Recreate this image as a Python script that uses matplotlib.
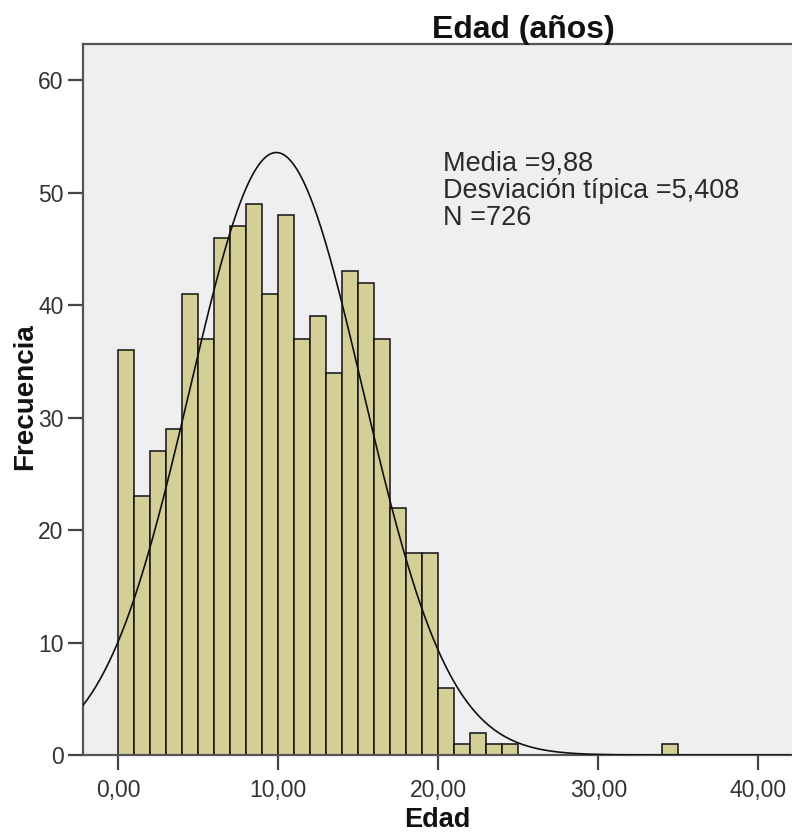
import matplotlib
matplotlib.use('Agg')
import matplotlib.pyplot as plt
import numpy as np

# Histogram counts, bins of width 1 starting at 0 (0-1, 1-2, ...)
bin_starts = list(range(0, 35))
counts = [36, 23, 27, 29, 41, 37, 46, 47, 49, 41,
          48, 37, 39, 34, 43, 42, 37, 22, 18, 18,
          6, 1, 2, 1, 1, 0, 0, 0, 0, 0,
          0, 0, 0, 0, 1]
media = 9.88
desv = 5.408
n_total = 726

xticks = [0, 10, 20, 30, 40]
yticks = [0, 10, 20, 30, 40, 50, 60]

plt.rcParams['font.family'] = ['Liberation Sans', 'DejaVu Sans']

fig = plt.figure(figsize=(7.92, 8.34), dpi=100)
ax = fig.add_axes([0.1048, 0.0947, 0.8952 + 0.01, 0.8525])
ax.set_facecolor('#efefef')

# Bars
ax.bar(bin_starts, counts, width=1, align='edge', color='#d3cf97',
       edgecolor='#111111', linewidth=1.1, zorder=2)

# Normal curve
xs = np.linspace(-2.2, 42, 500)
ys = n_total * 1.0 / (desv * np.sqrt(2 * np.pi)) * np.exp(-0.5 * ((xs - media) / desv) ** 2)
ax.plot(xs, ys, color='#111111', linewidth=1.2, zorder=3)

ax.set_xlim(-2.2, 42.6)
ax.set_ylim(0, 63.2)

ax.set_xticks(xticks)
ax.set_xticklabels([f'{v:.2f}'.replace('.', ',') for v in xticks])
ax.set_yticks(yticks)
ax.set_yticklabels([str(v) for v in yticks])

ax.tick_params(axis='both', direction='out', length=11, width=1.6,
               color='#444444', labelcolor='#333333', labelsize=16.5, pad=3)
ax.tick_params(axis='x', pad=6)

for side in ['left', 'bottom', 'top']:
    ax.spines[side].set_color('#555555')
    ax.spines[side].set_linewidth(1.6)
ax.spines['right'].set_visible(False)

# axis labels and title placed in figure pixels
fig.text(437 / 792, (834 - 827) / 834, 'Edad', fontsize=19.5, fontweight='bold',
         color='#111111', ha='center', va='baseline')
fig.text(12 / 792, (834 - 397) / 834, 'Frecuencia', fontsize=20,
         fontweight='bold', color='#111111', rotation=90, ha='left', va='center')

fig.text(523 / 792, (834 - 38) / 834, 'Edad (años)', fontsize=23, fontweight='bold',
         color='#111111', ha='center', va='baseline')

ax.text(443 / 792, (834 - 225) / 834,
        f'Media ={media:.2f}'.replace('.', ',') + '\n'
        + f'Desviación típica ={desv:.3f}'.replace('.', ',') + '\n'
        + f'N ={n_total}',
        transform=fig.transFigure, fontsize=19.5, color='#2a2a2a',
        ha='left', va='baseline', linespacing=1.05)

fig.savefig('out.png', dpi=100)
